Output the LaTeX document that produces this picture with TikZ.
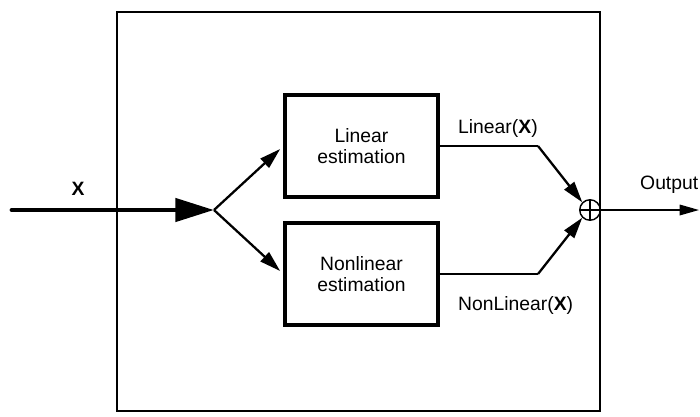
\documentclass[tikz,border=0pt]{standalone}
\usepackage{fontspec}
\setmainfont{Liberation Sans}
\usetikzlibrary{arrows.meta,calc}

\begin{document}
\begin{tikzpicture}[x=0.02cm,y=-0.02cm,
        font=\fontsize{11}{12}\selectfont,
        block/.style={draw,line width=2.1pt,minimum width=3.06cm,minimum height=2.04cm,inner sep=0pt,align=center},
        wire/.style={line width=0.7pt},
        branch/.style={line width=1.3pt,-{Triangle[length=12pt,width=7pt]}}]
            \useasboundingbox (0,0) rectangle (700,416);
            % enclosing system
            \draw[line width=0.6pt] (117,12) rectangle (600,411);

            \coordinate (src) at (12,210);
            \coordinate (split) at (214,210);
            \node[block] (lin) at (361.5,146) {Linear\\estimation};
            \node[block] (nonlin) at (361.5,274) {Nonlinear\\estimation};
            \coordinate (lbend) at (538,146);
            \coordinate (nbend) at (538,274);
            \node[draw,circle,line width=0.8pt,minimum size=0.41cm,inner sep=0pt] (sum) at (590,210) {};
            \draw[line width=0.8pt] (sum.north) -- (sum.south) (sum.west) -- (sum.east);
            \coordinate (out) at (699,210);

            % input splits into the two estimators
            \draw[line width=2.8pt,line cap=round,-{Triangle[length=22pt,width=13pt]}] (src) -- (split);
            \draw[branch] (split) -- ($(lin.west)+(-3,3)$);
            \draw[branch] (split) -- ($(nonlin.west)+(-3,-3)$);

            % recombine
            \draw[wire] (lin.east) -- (lbend);
            \draw[branch] (lbend) -- (sum.north west);
            \draw[wire] (nonlin.east) -- (nbend);
            \draw[branch] (nbend) -- (sum.south west);
            \draw[line width=0.9pt,-{Triangle[length=11pt,width=6pt]}] (sum.east) -- (out);

            % labels
            \node (xlab) at (78,189) {\textbf{X}};
            \node[anchor=west] (linlab) at (452,128) {Linear(\textbf{X})};
            \node[anchor=west] (nonlinlab) at (452,305) {NonLinear(\textbf{X})};
            \node[anchor=west] (outlab) at (634,185) {Output};
        \end{tikzpicture}
\end{document}
